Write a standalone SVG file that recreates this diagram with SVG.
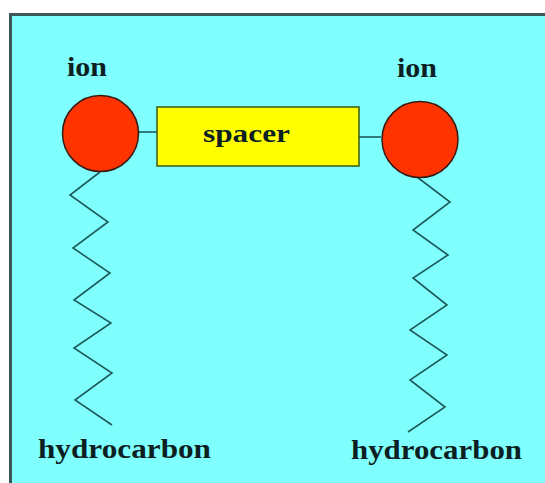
<svg xmlns="http://www.w3.org/2000/svg" width="545" height="483" viewBox="0 0 545 483">
<style>
.lbl{font-family:"Liberation Serif","Times New Roman",serif;font-weight:bold;fill:#0d1f22;lengthAdjust:spacingAndGlyphs}
.ion{fill:#ff3300;stroke:#3a1a10;stroke-width:1.5}
.wire{fill:none;stroke:#1d5a5c;stroke-width:1.6;stroke-linejoin:miter}
</style>
<rect x="0" y="0" width="545" height="483" fill="#ffffff"/>
<rect x="10.5" y="14.5" width="560" height="490" fill="#80ffff" stroke="#3d5656" stroke-width="3"/>
<g id="connectors">
<line class="wire" x1="139" y1="132" x2="157" y2="132"/>
<line class="wire" x1="359" y1="137" x2="381" y2="137"/>
<polyline class="wire" points="100,172 70,195 108,222 73,248 110,273 74,300 111,323 74,348 112,373 75,400 112,425"/>
<polyline class="wire" points="417,177 450,202 413,230 448,255 413,278 447,305 410,330 447,355 410,380 445,407 408,432"/>
</g>
<g id="ion-left">
<circle class="ion" cx="100.5" cy="133.5" r="38"/>
<text class="lbl" x="67" y="76" font-size="27" textLength="40" lengthAdjust="spacingAndGlyphs">ion</text>
</g>
<g id="ion-right">
<circle class="ion" cx="420" cy="139.5" r="38"/>
<text class="lbl" x="397" y="77" font-size="27" textLength="40" lengthAdjust="spacingAndGlyphs">ion</text>
</g>
<g id="spacer">
<rect x="157" y="107" width="202" height="59" fill="#ffff00" stroke="#3a5a10" stroke-width="1.5"/>
<text class="lbl" x="203" y="142" font-size="26" textLength="87" lengthAdjust="spacingAndGlyphs">spacer</text>
</g>
<g id="hydrocarbon-left">
<text class="lbl" x="38" y="458" font-size="28" textLength="173" lengthAdjust="spacingAndGlyphs">hydrocarbon</text>
</g>
<g id="hydrocarbon-right">
<text class="lbl" x="351" y="459" font-size="28" textLength="171" lengthAdjust="spacingAndGlyphs">hydrocarbon</text>
</g>
</svg>
